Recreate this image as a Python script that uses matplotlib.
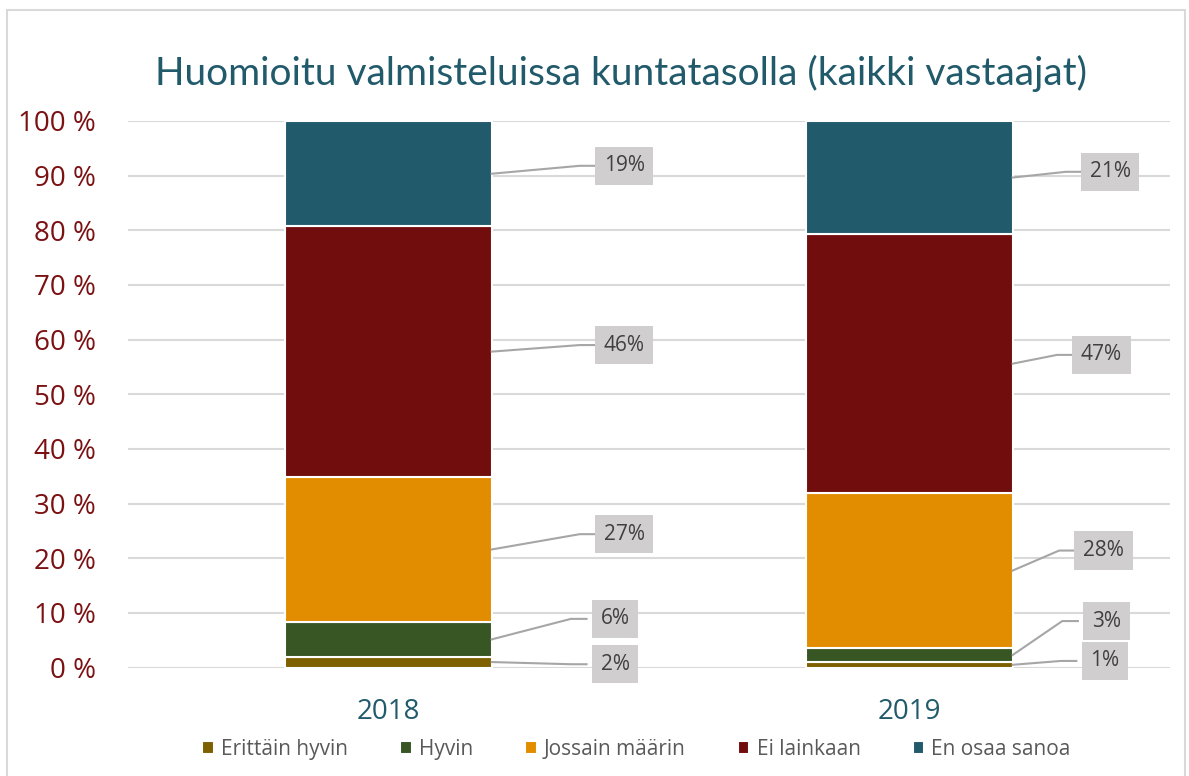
import numpy as np
import matplotlib.pyplot as plt
from matplotlib.patches import Rectangle

# data
years = ['2018', '2019']
categories = ['Erittäin hyvin', 'Hyvin', 'Jossain määrin', 'Ei lainkaan', 'En osaa sanoa']
erittain_hyvin = [2.0, 1.0]
hyvin = [6.3, 2.6]
jossain = [26.6, 28.3]
ei_lainkaan = [45.8, 47.4]
en_osaa = [19.3, 20.7]
series = [erittain_hyvin, hyvin, jossain, ei_lainkaan, en_osaa]

colors = ['#7F6000', '#375623', '#E28C00', '#720D0E', '#215A6B']

# label box positions (x offset from bar centre, y in %), layout only
label_dx = [[0.435, 0.435, 0.452, 0.452, 0.452],
            [0.375, 0.378, 0.372, 0.368, 0.385]]
label_y = [[0.6, 8.9, 24.4, 59.0, 91.8],
           [1.2, 8.5, 21.4, 57.2, 90.7]]

plt.rcParams['font.family'] = ['Open Sans', 'DejaVu Sans']

fig = plt.figure(figsize=(11.89, 7.76), dpi=100)
ax = fig.add_axes([0.1077, 0.1398, 0.8764, 0.7043])

x = np.arange(len(years))
width = 0.396
bottom = np.zeros(len(years))
for name, vals, c in zip(categories, series, colors):
    ax.bar(x, vals, width, bottom=bottom, color=c, edgecolor='white',
           linewidth=1.5, label=name, zorder=3)
    bottom += np.array(vals)

# data labels with leader lines
for i in range(len(years)):
    cum = 0
    for j, vals in enumerate(series):
        v = vals[i]
        mid = cum + v / 2
        cum += v
        lx = x[i] + label_dx[i][j]
        ly = label_y[i][j]
        edge = x[i] + width / 2
        box_left = lx - 0.055
        ax.plot([edge, box_left - 0.03, box_left], [mid, ly, ly],
                color='#A6A6A6', lw=1.5, zorder=4, clip_on=False)
        ax.text(lx, ly, '{}%'.format(int(round(v))), ha='center', va='center',
                fontsize=15, color='#404040', zorder=5,
                bbox=dict(boxstyle='square,pad=0.42', fc='#D0CECE', ec='none'))

ax.set_xlim(-0.5, 1.5)
ax.set_ylim(0, 100)
ax.set_yticks(np.arange(0, 101, 10))
ax.set_yticklabels(['{} %'.format(t) for t in range(0, 101, 10)])
ax.set_xticks(x)
ax.set_xticklabels(years)
ax.tick_params(axis='y', length=0, pad=23, labelsize=20, labelcolor='#7B1113')
ax.tick_params(axis='x', length=0, pad=22, labelsize=20, labelcolor='#215A6B')
ax.grid(axis='y', color='#D9D9D9', lw=1.5, zorder=0)
for s in ax.spines.values():
    s.set_visible(False)

leg = ax.legend(loc='center', bbox_to_anchor=(0.488, -0.15), ncol=5, frameon=False,
                fontsize=15, handlelength=0.55, handleheight=0.55, handletextpad=0.35,
                columnspacing=2.5)
for t in leg.get_texts():
    t.set_color('#595959')

fig.text(0.522, 0.905, 'Huomioitu valmisteluissa kuntatasolla (kaikki vastaajat)',
         ha='center', va='center', fontsize=28, color='#215A6B',
         family=['Lato', 'DejaVu Sans'])

# chart border
fig.patches.append(Rectangle((7 / 1189, -0.02), 1178 / 1189, 1 - 10 / 776 + 0.02,
                             transform=fig.transFigure, fill=False,
                             ec='#D9D9D9', lw=1.5))

fig.savefig('out.png', dpi=100)
